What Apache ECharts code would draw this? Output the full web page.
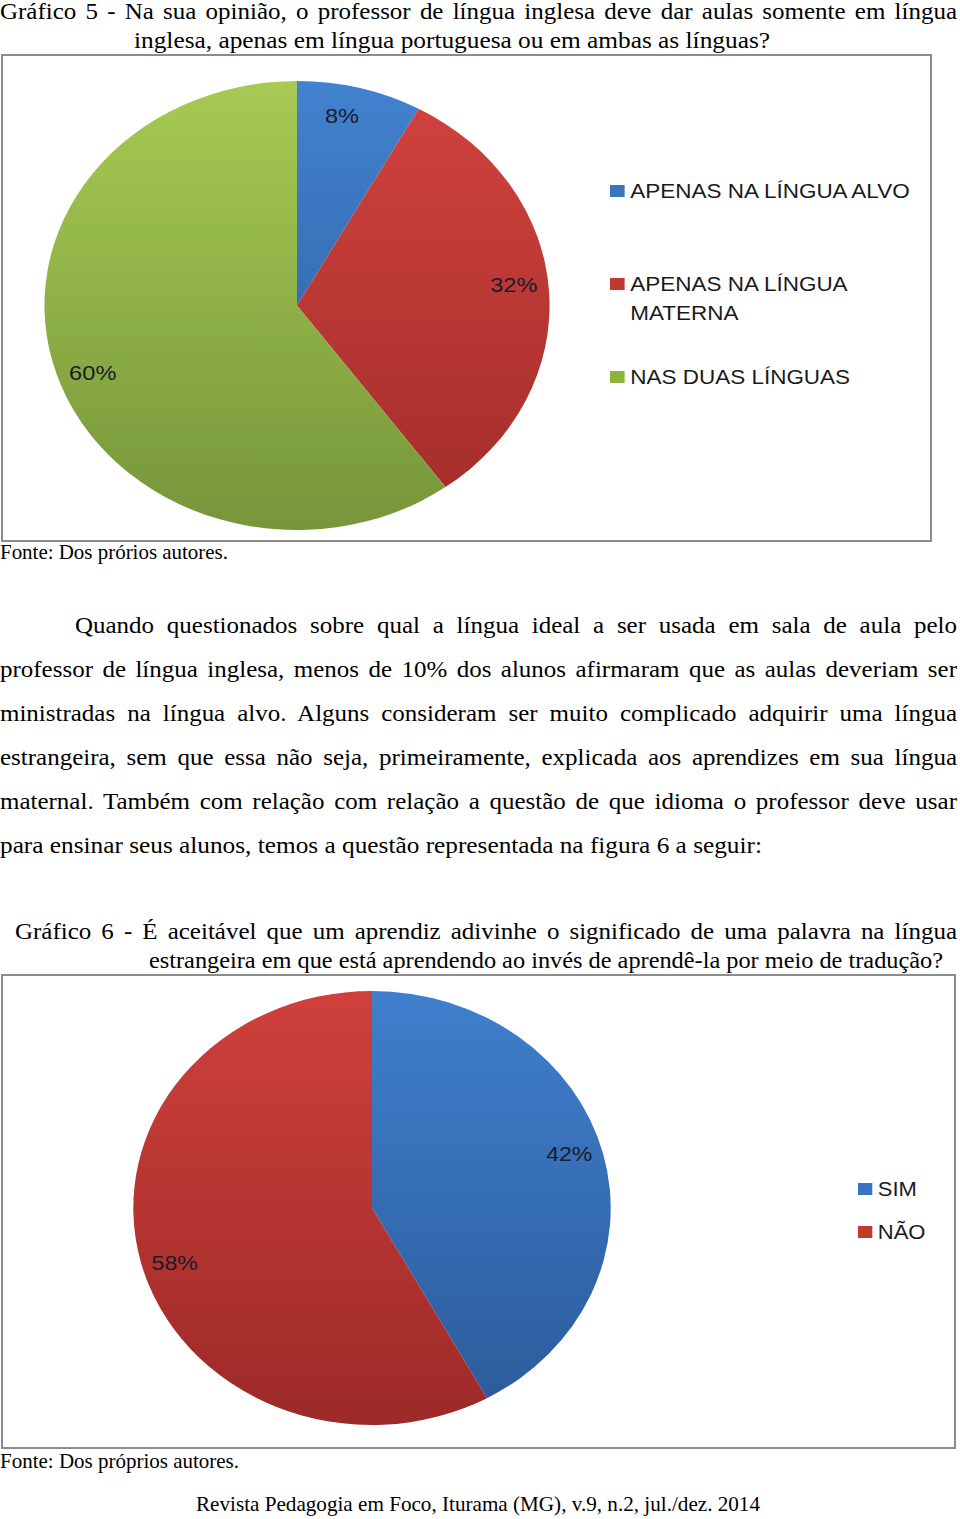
<!DOCTYPE html>
<html><head><meta charset="utf-8">
<script src="https://cdn.jsdelivr.net/npm/echarts@6/dist/echarts.min.js"></script>
<style>
html,body{margin:0;padding:0;background:#fff;}
body{width:960px;height:1519px;position:relative;overflow:hidden;font-family:"Liberation Serif","Times New Roman",serif;color:#000;}
.ln{position:absolute;white-space:nowrap;}
.box{position:absolute;border:2px solid #8c8c8c;box-sizing:border-box;overflow:hidden;background:#fff;}
.chart{position:absolute;left:0;top:0;transform-origin:0 0;}
</style></head><body>
<div class="box" style="left:1px;top:54px;width:931px;height:488px;"><div class="chart" id="c1"></div></div>
<div class="box" style="left:1px;top:974px;width:955px;height:475px;"><div class="chart" id="c2"></div></div>
<script>
// ---- data ----
const pie1Categories = ['APENAS NA LÍNGUA ALVO', 'APENAS NA LÍNGUA MATERNA', 'NAS DUAS LÍNGUAS'];
const pie1Values = [8, 32, 60];
const pie2Categories = ['SIM', 'NÃO'];
const pie2Values = [42, 58];

// ---- page text ----
const title5 = ['Gráfico 5 - Na sua opinião, o professor de língua inglesa deve dar aulas somente em língua',
                'inglesa, apenas em língua portuguesa ou em ambas as línguas?'];
const source5 = 'Fonte: Dos prórios autores.';
const paragraph = ['Quando questionados sobre qual a língua ideal a ser usada em sala de aula pelo',
  'professor de língua inglesa, menos de 10% dos alunos afirmaram que as aulas deveriam ser',
  'ministradas na língua alvo. Alguns consideram ser muito complicado adquirir uma língua',
  'estrangeira, sem que essa não seja, primeiramente, explicada aos aprendizes em sua língua',
  'maternal. Também com relação com relação a questão de que idioma o professor deve usar',
  'para ensinar seus alunos, temos a questão representada na figura 6 a seguir:'];
const title6 = ['Gráfico 6 - É aceitável que um aprendiz adivinhe o significado de uma palavra na língua',
                'estrangeira em que está aprendendo ao invés de aprendê-la por meio de tradução?'];
const source6 = 'Fonte: Dos próprios autores.';
const footer = 'Revista Pedagogia em Foco, Iturama (MG), v.9, n.2, jul./dez. 2014';

function makeLine(t, x, bl, fs) {
  const d = document.createElement('div');
  d.className = 'ln';
  d.textContent = t;
  d.style.fontSize = fs + 'px';
  d.style.lineHeight = fs + 'px';
  d.style.left = x + 'px';
  d.style.top = (bl - fs * 0.838) + 'px';
  d.style.transformOrigin = '0 0';
  document.body.appendChild(d);
  return d;
}
function fitLine(t, x, bl, w, fs) {
  const d = makeLine(t, x, bl, fs);
  const nw = d.getBoundingClientRect().width;
  d.style.transform = 'scaleX(' + (w / nw) + ')';
  return w / nw;
}
function justLine(t, x, bl, w, fs, sx) {
  const d = makeLine(t, x, bl, fs);
  d.style.width = (w / sx) + 'px';
  d.style.whiteSpace = 'normal';
  d.style.textAlign = 'justify';
  d.style.textAlignLast = 'justify';
  d.style.transform = 'scaleX(' + sx + ')';
}
const BODY = 23, SMALL = 21;
const sA = fitLine(paragraph[5], 0, 853, 762, BODY);
const sB = fitLine(title5[1], 134, 48, 636, BODY);
const sC = fitLine(title6[1], 149, 968, 794, BODY);
const SX = (sA + sB + sC) / 3;
justLine(title5[0], 0, 19, 957, BODY, SX);
fitLine(source5, 0, 560, 228, SMALL);
justLine(paragraph[0], 75, 633, 882, BODY, SX);
justLine(paragraph[1], 0, 677, 957, BODY, SX);
justLine(paragraph[2], 0, 721, 957, BODY, SX);
justLine(paragraph[3], 0, 765, 957, BODY, SX);
justLine(paragraph[4], 0, 809, 957, BODY, SX);
justLine(title6[0], 15, 939, 942, BODY, SX);
fitLine(source6, 0, 1469, 239, SMALL);
fitLine(footer, 196, 1512, 564, SMALL);

// ---- charts ----
function grad(cy, r, top, bottom) {
  return {type: 'linear', x: 0, y: cy - r, x2: 0, y2: cy + r, global: true,
    colorStops: [{offset: 0, color: top}, {offset: 1, color: bottom}]};
}
const SANS = '"Liberation Sans", Arial, sans-serif';

function buildPie(el, scale, contentW, contentH, cx, cy, r, cats, vals, grads, iconColors, legendOpt) {
  el.style.width = (contentW / scale) + 'px';
  el.style.height = contentH + 'px';
  el.style.transform = 'scaleX(' + scale + ')';
  const chart = echarts.init(el, null, {renderer: 'svg'});
  chart.setOption({
    animation: false,
    backgroundColor: 'transparent',
    legend: Object.assign({
      orient: 'vertical', padding: 0, icon: 'rect', itemWidth: 13, itemHeight: 12,
      selectedMode: false,
      data: cats.map((n, i) => ({name: n, itemStyle: {color: iconColors[i]}}))
    }, legendOpt),
    series: [{
      type: 'pie', center: [cx, cy], radius: [0, r], startAngle: 90, clockwise: true,
      silent: true, emphasis: {disabled: true},
      label: {show: false}, labelLine: {show: false},
      itemStyle: {borderWidth: 0},
      data: cats.map((n, i) => ({name: n, value: vals[i], itemStyle: {color: grads[i]}}))
    }, {
      type: 'pie', center: [cx, cy], radius: [r * 0.7, r], startAngle: 92.5, clockwise: true,
      silent: true, emphasis: {disabled: true}, z: 5,
      itemStyle: {color: 'rgba(0,0,0,0)', borderWidth: 0},
      label: {show: true, position: 'inside', formatter: '{c}%', fontFamily: SANS, fontSize: 21, color: '#1b1b2a'},
      labelLine: {show: false},
      data: cats.map((n, i) => ({name: n, value: vals[i]}))
    }]
  });
  return chart;
}

const s1 = 1.125, cy1 = 249.5, r1 = 224.5;
buildPie(document.getElementById('c1'), s1, 927, 484, (297 - 3) / s1, cy1, r1,
  pie1Categories, pie1Values,
  [grad(cy1, r1, '#4282ce', '#2a5b9c'), grad(cy1, r1, '#d2433f', '#a12c29'), grad(cy1, r1, '#a6ca53', '#76963a')],
  ['#3a74c0', '#c0392f', '#8db33e'],
  {left: (610 - 3) / s1, top: 120.5, itemGap: 35,
   textStyle: {fontFamily: SANS, fontSize: 20, color: '#1a1a1a', lineHeight: 29},
   formatter: n => n === 'APENAS NA LÍNGUA MATERNA' ? ' \nAPENAS NA LÍNGUA\nMATERNA' : n});

const s2 = 1.10, cy2 = 232, r2 = 217;
buildPie(document.getElementById('c2'), s2, 951, 471, (372 - 3) / s2, cy2, r2,
  pie2Categories, pie2Values,
  [grad(cy2, r2, '#3f7fcc', '#2b5a9a'), grad(cy2, r2, '#cf403c', '#9c2a27')],
  ['#3a74c0', '#c0392f'],
  {left: (858 - 3) / s2, top: 201, itemGap: 19,
   textStyle: {fontFamily: SANS, fontSize: 20, color: '#1a1a1a', lineHeight: 24}});
</script>
</body></html>
